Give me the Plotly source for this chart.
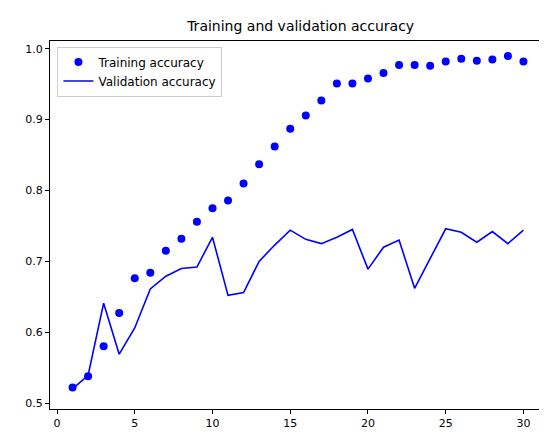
import plotly.graph_objects as go

epochs = list(range(1, 31))
train_acc = [0.522,0.538,0.580,0.627,0.676,0.684,0.715,0.732,0.756,0.775,0.786,0.810,0.837,0.862,0.887,
             0.906,0.927,0.951,0.951,0.958,0.966,0.977,0.977,0.976,0.982,0.986,0.983,0.985,0.990,0.982]
val_acc = [0.520,0.539,0.641,0.569,0.606,0.661,0.679,0.690,0.692,0.734,0.652,0.656,0.700,0.723,0.744,
           0.731,0.725,0.734,0.745,0.689,0.720,0.730,0.662,0.704,0.746,0.741,0.727,0.742,0.725,0.744]

fig = go.Figure()
fig.add_trace(go.Scatter(x=epochs, y=train_acc, mode="markers", name="Training accuracy",
                         marker=dict(color="blue", size=8)))
fig.add_trace(go.Scatter(x=epochs, y=val_acc, mode="lines", name="Validation accuracy",
                         line=dict(color="blue", width=1.6)))
ax = dict(showgrid=False, zeroline=False, showline=True, mirror=True, linecolor="black",
          ticks="outside", ticklen=4, tickcolor="black", tickfont=dict(size=11, color="black"))
fig.update_layout(
    width=547, height=435, paper_bgcolor="white", plot_bgcolor="white",
    margin=dict(l=42, r=9, t=33, b=34),
    title=dict(text="Training and validation accuracy", x=0.535, xanchor="center",
               yref="container", y=1 - 18 / 435, yanchor="middle",
               font=dict(size=14, color="black", family="DejaVu Sans")),
    font=dict(family="DejaVu Sans", color="black"),
    xaxis=dict(range=[-0.45, 31.45], tickvals=[0,5,10,15,20,25,30], **ax),
    yaxis=dict(range=[0.4916, 1.011], tickvals=[0.5,0.6,0.7,0.8,0.9,1.0], tickformat=".1f", **ax),
    legend=dict(x=0.015, y=0.985, xanchor="left", yanchor="top", bgcolor="white",
                bordercolor="#cccccc", borderwidth=1, font=dict(size=12)),
)
fig.write_html("out.html")
